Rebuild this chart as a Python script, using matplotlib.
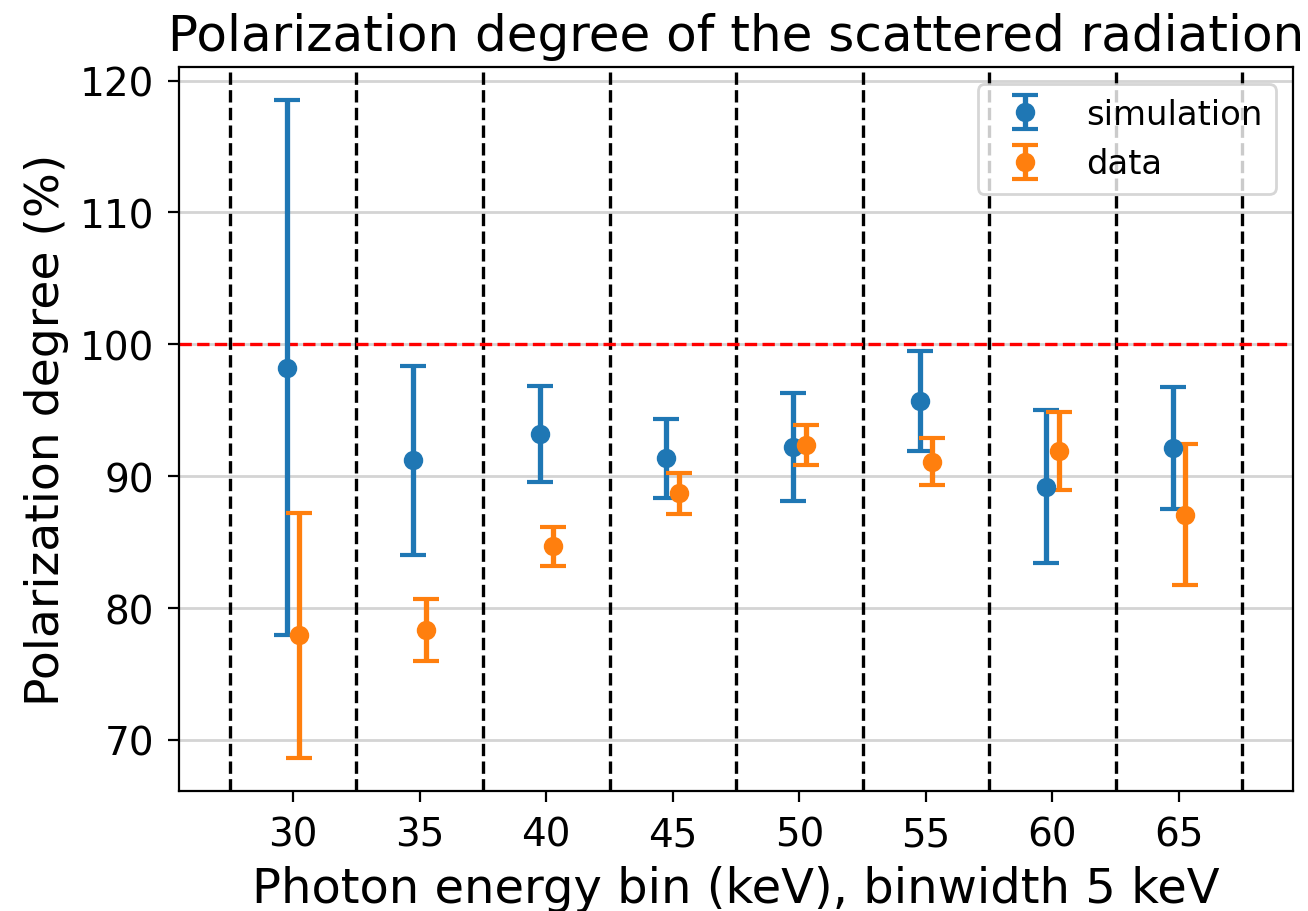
import numpy as np
from matplotlib import pyplot as plt

# energy bins (keV) and polarization degree per bin
energy = np.array([30, 35, 40, 45, 50, 55, 60, 65])
sim_pol = np.array([98.23, 91.2, 93.2, 91.35, 92.2, 95.7, 89.2, 92.15])
sim_err = np.array([20.3, 7.18, 3.65, 3.0, 4.08, 3.8, 5.8, 4.62])
data_pol = np.array([77.92, 78.33, 84.7, 88.7, 92.35, 91.1, 91.9, 87.08])
data_err = np.array([9.3, 2.32, 1.48, 1.57, 1.5, 1.8, 2.95, 5.37])

binwidth = 5
offset = 0.25

fig = plt.figure(figsize=(6.54, 4.56), dpi=200)
ax = fig.add_subplot(111)
fig.subplots_adjust(left=0.137, right=0.9885, bottom=0.1316, top=0.9254)

ax.grid(axis='y', color='#d4d4d4', linewidth=1.0)
ax.set_axisbelow(True)

# bin edges
for e in np.arange(energy[0] - binwidth / 2, energy[-1] + binwidth, binwidth):
    ax.axvline(e, color='k', linestyle='--', linewidth=1.2)

ax.axhline(100, color='r', linestyle='--', linewidth=1.2)

ax.errorbar(energy - offset, sim_pol, yerr=sim_err, fmt='o', capsize=4.7,
            markersize=6, elinewidth=1.9, capthick=1.5, label='simulation')
ax.errorbar(energy + offset, data_pol, yerr=data_err, fmt='o', capsize=4.7,
            markersize=6, elinewidth=1.9, capthick=1.5, label='data')

ax.set_xlim(25.5, 69.5)
ax.set_xticks(energy)
ax.tick_params(labelsize=14, length=4, pad=5)

ax.set_title('Polarization degree of the scattered radiation', fontsize=18)
ax.set_xlabel('Photon energy bin (keV), binwidth 5 keV', fontsize=17.3)
ax.set_ylabel('Polarization degree (%)', fontsize=17)
ax.legend(loc='upper right', fontsize=12.2)

plt.savefig('out.png', dpi=200)
